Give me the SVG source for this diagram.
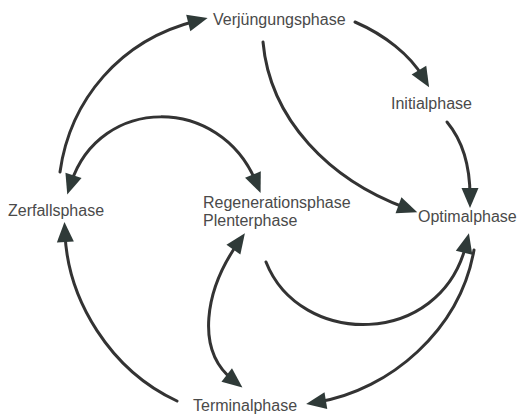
<svg xmlns="http://www.w3.org/2000/svg" width="527" height="416" viewBox="0 0 527 416">
  <style>
    .bg { fill: #ffffff; }
    .label { font-family: "Liberation Sans", Arial, sans-serif; font-size: 16px; fill: #4a4a4a; }
    .link { fill: none; stroke: #333333; stroke-width: 3; stroke-linecap: round; }
  </style>
  <defs>
    <!-- solid triangular head; tip sits 12px beyond the path end -->
    <marker id="arrow" viewBox="-10 -10 24 20" markerWidth="24" markerHeight="20" refX="0" refY="0" markerUnits="userSpaceOnUse" orient="auto-start-reverse">
      <path d="M-8,-8.5 L12,0 L-8,8.5 Z" fill="#2f3a38"/>
    </marker>
  </defs>

  <rect class="bg" x="0" y="0" width="527" height="416"/>

  <g id="connectors">
    <!-- Zerfallsphase -> Verjuengungsphase -->
    <path class="link" d="M60,172 C70,100 120,40 196,21" marker-end="url(#arrow)"/>
    <!-- Zerfallsphase <-> Regenerationsphase -->
    <path class="link" d="M71,183 C100,95 220,95 256,182" marker-start="url(#arrow)" marker-end="url(#arrow)"/>
    <!-- Verjuengungsphase -> Initialphase -->
    <path class="link" d="M355,22 C385,35 410,55 423,77" marker-end="url(#arrow)"/>
    <!-- Verjuengungsphase -> Optimalphase -->
    <path class="link" d="M263,42 C270,120 330,180 406,208" marker-end="url(#arrow)"/>
    <!-- Initialphase -> Optimalphase -->
    <path class="link" d="M447,122 C462,140 470,165 470,196" marker-end="url(#arrow)"/>
    <!-- Regenerationsphase -> Optimalphase -->
    <path class="link" d="M266,262 C300,348 440,348 466,245" marker-end="url(#arrow)"/>
    <!-- Optimalphase -> Terminalphase -->
    <path class="link" d="M474,250 C460,330 390,390 318,402" marker-end="url(#arrow)"/>
    <!-- Regenerationsphase <-> Terminalphase -->
    <path class="link" d="M238,243 C205,290 195,350 233,380" marker-start="url(#arrow)" marker-end="url(#arrow)"/>
    <!-- Terminalphase -> Zerfallsphase -->
    <path class="link" d="M177,401 C110,370 68,300 65,234" marker-end="url(#arrow)"/>
  </g>

  <g id="verjuengungsphase">
    <text class="label" x="213" y="25">Verjüngungsphase</text>
  </g>
  <g id="initialphase">
    <text class="label" x="391" y="109">Initialphase</text>
  </g>
  <g id="zerfallsphase">
    <text class="label" x="8" y="216">Zerfallsphase</text>
  </g>
  <g id="regenerationsphase">
    <text class="label" x="203" y="208">Regenerationsphase</text>
    <text class="label" x="203" y="226">Plenterphase</text>
  </g>
  <g id="optimalphase">
    <text class="label" x="418" y="222">Optimalphase</text>
  </g>
  <g id="terminalphase">
    <text class="label" x="193" y="411">Terminalphase</text>
  </g>
</svg>
